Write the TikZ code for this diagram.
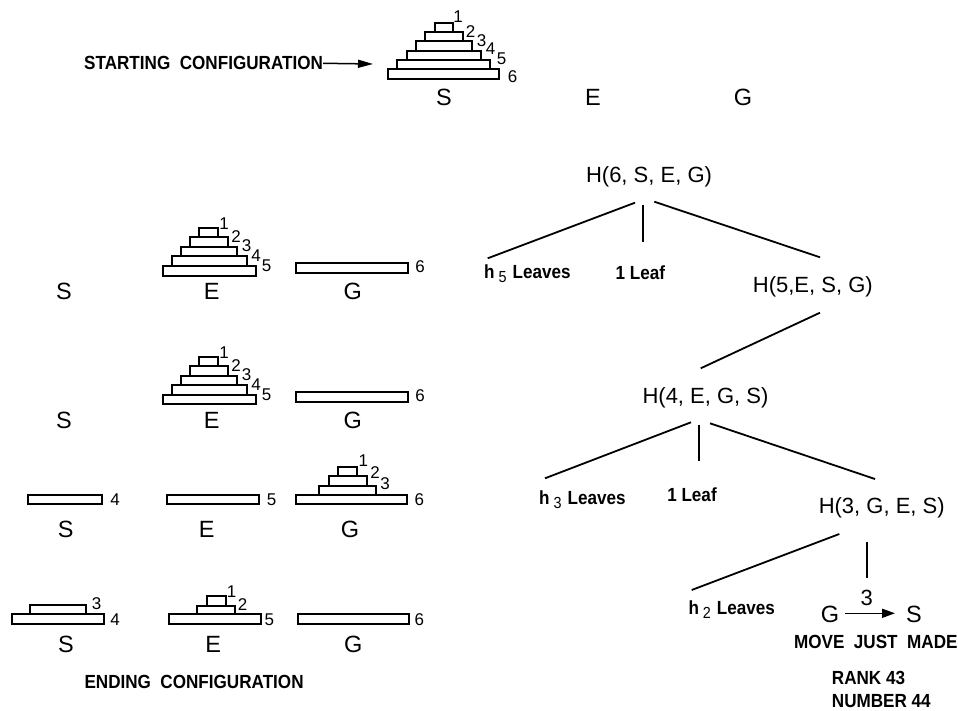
\documentclass[tikz,border=0pt]{standalone}
\usepackage{fontspec}
\setmainfont{Liberation Sans}
\newfontfamily\condfam[FakeStretch=0.9]{Liberation Sans}
\usetikzlibrary{arrows.meta,calc}
\newcommand\dk[4]{\draw[disk] (#1,#2) rectangle (#3,#4);}
\begin{document}
\begin{tikzpicture}[x=1pt,y=-1pt,
  disk/.style={line width=1.9pt, fill=white},
  num/.style={font=\fontsize{17}{17}\selectfont, inner sep=0},
  peg/.style={font=\fontsize{23.5}{23.5}\selectfont, inner sep=0},
  tnode/.style={font=\fontsize{22}{22}\selectfont, inner sep=0},
  blab/.style={font=\condfam\bfseries\fontsize{19}{19}\selectfont, inner sep=0},
  tline/.style={line width=1.8pt}]
\useasboundingbox (0,0) rectangle (958,711);
% ---------- starting configuration ----------
\node[blab, anchor=west] (start) at (84,63.3) {STARTING\ \ CONFIGURATION};
\coordinate (startend) at (373,64);
\draw[line width=1.5pt, -{Triangle[length=15pt,width=8pt]}] (start.east) -- (startend);
\dk{388.3}{69.3}{499.3}{79}
\dk{397.3}{60}{490}{69.3}
\dk{406.7}{50.7}{481}{60}
\dk{415.7}{41.3}{472}{50.7}
\dk{425}{32.3}{462.7}{41.3}
\dk{435}{23.3}{453.3}{32.3}
\node[num] (t1) at (458,16.3) {1};
\node[num] (t2) at (470.7,32) {2};
\node[num] (t3) at (481.7,40.8) {3};
\node[num] (t4) at (490.7,49) {4};
\node[num] (t5) at (501.7,59) {5};
\node[num] (t6) at (512.7,76.7) {6};
\node[peg] (tS) at (444,97) {S};
\node[peg] (tE) at (593,97) {E};
\node[peg] (tG) at (743,97) {G};
% ---------- row 1 ----------
\dk{162.7}{265.7}{256}{275.7}
\dk{171.7}{256}{246.7}{265.7}
\dk{181}{246.7}{237.3}{256}
\dk{190}{237.3}{227.7}{246.7}
\dk{199.3}{228.3}{218.3}{237.3}
\node[num] (a1) at (224,223.3) {1};
\node[num] (a2) at (236,237) {2};
\node[num] (a3) at (246.7,245.5) {3};
\node[num] (a4) at (256,255.8) {4};
\node[num] (a5) at (266.7,266) {5};
\dk{296}{262.7}{407.7}{272.7}
\node[num] (a6) at (420,266.7) {6};
\node[peg] (aS) at (64,291) {S};
\node[peg] (aE) at (211.7,291) {E};
\node[peg] (aG) at (352.7,291) {G};
% ---------- row 2 ----------
\dk{162.7}{394.7}{256}{404.3}
\dk{171.7}{385}{246.7}{394.7}
\dk{181}{375.7}{237.3}{385}
\dk{190}{366.3}{227.7}{375.7}
\dk{199.3}{357.3}{218.3}{366.3}
\node[num] (b1) at (224,352.3) {1};
\node[num] (b2) at (236,366) {2};
\node[num] (b3) at (246.7,374.5) {3};
\node[num] (b4) at (256,384.8) {4};
\node[num] (b5) at (266.7,395) {5};
\dk{296}{392.3}{407.7}{402.3}
\node[num] (b6) at (420,396) {6};
\node[peg] (bS) at (64,420) {S};
\node[peg] (bE) at (211.7,420) {E};
\node[peg] (bG) at (352.7,420) {G};
% ---------- row 3 ----------
\dk{28.3}{495}{101.7}{504.3}
\node[num] (c4) at (115,500) {4};
\dk{166.7}{495}{259.3}{504.3}
\node[num] (c5) at (271.7,500) {5};
\dk{295.7}{495}{407.3}{504.3}
\dk{319.3}{485.7}{376}{495}
\dk{329}{476}{366.7}{485.7}
\dk{338.3}{466.7}{357.3}{476}
\node[num] (c1) at (363.3,460.7) {1};
\node[num] (c2) at (375,472.7) {2};
\node[num] (c3) at (385,484) {3};
\node[num] (c6) at (419.3,499.3) {6};
\node[peg] (cS) at (65.7,529) {S};
\node[peg] (cE) at (206.7,529) {E};
\node[peg] (cG) at (350,529) {G};
% ---------- row 4 ----------
\dk{11.7}{614.3}{104}{624}
\dk{30}{605}{86}{614.3}
\node[num] (d3) at (96.7,603.3) {3};
\node[num] (d4) at (115,619.3) {4};
\dk{169}{614.3}{260.7}{624}
\dk{197.3}{605.7}{235}{614.3}
\dk{206.7}{596}{225.7}{605.7}
\node[num] (e1) at (231.7,591.7) {1};
\node[num] (e2) at (242.7,605) {2};
\node[num] (e5) at (269.3,620) {5};
\dk{297.7}{614.3}{409.3}{624}
\node[num] (f6) at (419.3,620) {6};
\node[peg] (dS) at (66,644) {S};
\node[peg] (dE) at (213.3,644) {E};
\node[peg] (dG) at (353.3,644) {G};
\node[blab, anchor=west] (endcfg) at (84.3,681.7) {ENDING\ \ CONFIGURATION};
% ---------- tree ----------
\node[tnode] (h6) at (649,176.7) {H(6, S, E, G)};
\node[blab, anchor=west] (l5) at (484,273.3) {h\kern4pt\raisebox{-4pt}{\mdseries\fontsize{16}{16}\selectfont 5}\kern6pt Leaves};
\node[blab] (l1a) at (640.3,272.7) {1 Leaf};
\node[tnode] (h5) at (812.8,286.7) {H(5,E, S, G)};
\node[tnode] (h4) at (705.5,398.3) {H(4, E, G, S)};
\node[blab, anchor=west] (l3) at (539,499.3) {h\kern4pt\raisebox{-4pt}{\mdseries\fontsize{16}{16}\selectfont 3}\kern6pt Leaves};
\node[blab] (l1b) at (692,495) {1 Leaf};
\node[tnode] (h3) at (881.7,508.3) {H(3, G, E, S)};
\node[blab, anchor=west] (l2) at (688.3,610) {h\kern4pt\raisebox{-4pt}{\mdseries\fontsize{16}{16}\selectfont 2}\kern6pt Leaves};
\node[peg] (mG) at (830,614) {G};
\node[peg] (mS) at (914,614) {S};
\node[tnode] (m3) at (866.7,598.3) {3};
\node[blab] (mv) at (875.8,641.7) {MOVE\ \ JUST\ \ MADE};
\node[blab, anchor=west] (rk) at (831.7,677.5) {RANK 43};
\node[blab, anchor=west] (nb) at (831.7,701.5) {NUMBER 44};
\draw[tline] ($(h6)+(-14,26)$) -- ($(l5.west)+(3.7,-15)$);
\draw[tline] ($(h6)+(-5.7,28.3)$) -- ($(l1a)+(3,-31)$);
\draw[tline] ($(h6)+(5.3,25)$) -- ($(h5)+(7.2,-29.4)$);
\draw[tline] ($(h5)+(7.2,26)$) -- ($(h4)+(-4.8,-30)$);
\draw[tline] ($(h4)+(-14.5,24)$) -- ($(l3.west)+(6,-21)$);
\draw[tline] ($(h4)+(-6.8,26.7)$) -- ($(l1b)+(6.7,-34)$);
\draw[tline] ($(h4)+(4.5,25)$) -- ($(h3)+(-6.7,-29.3)$);
\draw[tline] ($(h3)+(-42.4,25.7)$) -- ($(l2.west)+(3.4,-20)$);
\draw[tline] ($(h3)+(-14.4,33.4)$) -- ($(m3)+(0.6,-20.6)$);
\draw[line width=1.6pt, -{Triangle[length=13pt,width=9pt]}] ($(mG)+(15,-0.7)$) -- ($(mS)+(-19,-0.7)$);
\end{tikzpicture}
\end{document}
